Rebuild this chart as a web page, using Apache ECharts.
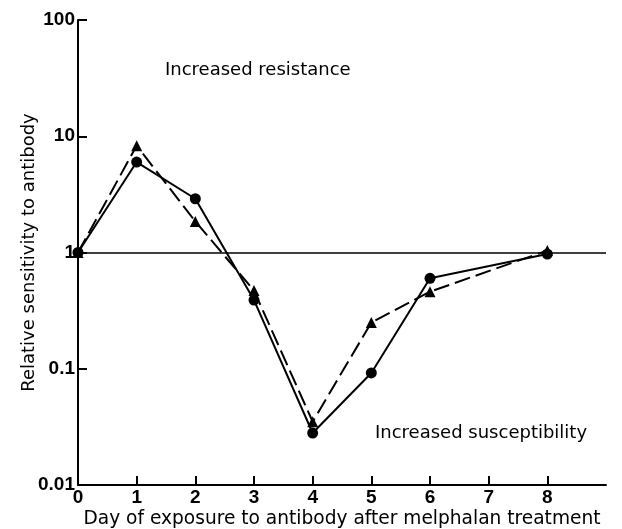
<!DOCTYPE html>
<html>
<head>
<meta charset="utf-8">
<script src="https://cdn.jsdelivr.net/npm/echarts@6/dist/echarts.min.js"></script>
<style>
  html, body { margin: 0; padding: 0; background: #fff; }
  #chart { width: 622px; height: 529px; }
</style>
</head>
<body>
<div id="chart"></div>
<script>
// days after melphalan treatment
var days = [0, 1, 2, 3, 4, 5, 6, 8];
// relative sensitivity, circles (solid line)
var circleValues = [1, 6.0, 2.9, 0.39, 0.028, 0.092, 0.6, 0.97];
// relative sensitivity, triangles (dashed line)
var triangleValues = [1, 8.3, 1.85, 0.47, 0.035, 0.25, 0.46, 1.04];
var xTicks = [0, 1, 2, 3, 4, 5, 6, 7, 8];
var yTicks = [0.01, 0.1, 1, 10, 100];

function pairs(xs, ys) {
  return xs.map(function (x, i) { return [x, ys[i]]; });
}

var tickFont = 'Liberation Sans, Arial, sans-serif';
var textFont = 'DejaVu Sans, sans-serif';
var myChart = echarts.init(document.getElementById('chart'));

var options = {
  animation: false,
  grid: { left: 78, right: 16, top: 20, bottom: 44, containLabel: false, outerBoundsMode: 'none' },
  xAxis: {
    type: 'value',
    min: 0,
    max: 9,
    interval: 1,
    name: 'Day of exposure to antibody after melphalan treatment',
    nameLocation: 'middle',
    nameGap: 25,
    nameMoveOverlap: false,
    nameTextStyle: { color: '#000', fontSize: 18.6, fontFamily: textFont, verticalAlign: 'top' },
    axisLine: { lineStyle: { color: '#000', width: 2 } },
    axisTick: { inside: true, length: 9, lineStyle: { color: '#000', width: 2 }, customValues: xTicks },
    axisLabel: { color: '#000', fontSize: 19, fontWeight: 'bold', fontFamily: tickFont, margin: 3, customValues: xTicks },
    splitLine: { show: false }
  },
  yAxis: {
    type: 'log',
    logBase: 10,
    min: 0.01,
    max: 100,
    name: 'Relative sensitivity to antibody',
    nameLocation: 'middle',
    nameGap: 40,
    nameMoveOverlap: false,
    nameTextStyle: { color: '#000', fontSize: 18, fontFamily: textFont },
    axisLine: { lineStyle: { color: '#000', width: 2 } },
    axisTick: { inside: true, length: 9, lineStyle: { color: '#000', width: 2 }, customValues: yTicks },
    axisLabel: {
      color: '#000', fontSize: 19, fontWeight: 'bold', fontFamily: tickFont, margin: 3,
      customValues: yTicks,
      formatter: function (v) { return String(v); }
    },
    minorTick: { show: false },
    splitLine: { show: false }
  },
  graphic: [
    { type: 'text', left: 165, top: 61, style: { text: 'Increased resistance', fontSize: 18, fontFamily: textFont, fill: '#000' } },
    { type: 'text', left: 375, top: 424, style: { text: 'Increased susceptibility', fontSize: 18, fontFamily: textFont, fill: '#000' } }
  ],
  series: [
    {
      name: 'circles',
      type: 'line',
      data: pairs(days, circleValues),
      symbol: 'circle',
      symbolSize: 11,
      itemStyle: { color: '#000' },
      lineStyle: { color: '#000', width: 2 },
      z: 3,
      markLine: {
        silent: true,
        symbol: 'none',
        label: { show: false },
        lineStyle: { color: '#000', width: 1.5, type: 'solid' },
        data: [{ yAxis: 1 }]
      }
    },
    {
      name: 'triangles',
      type: 'line',
      data: pairs(days, triangleValues),
      symbol: 'triangle',
      symbolSize: 11,
      itemStyle: { color: '#000' },
      lineStyle: { color: '#000', width: 2, type: [16, 6] },
      z: 2
    }
  ]
};

myChart.setOption(options);
</script>
</body>
</html>
